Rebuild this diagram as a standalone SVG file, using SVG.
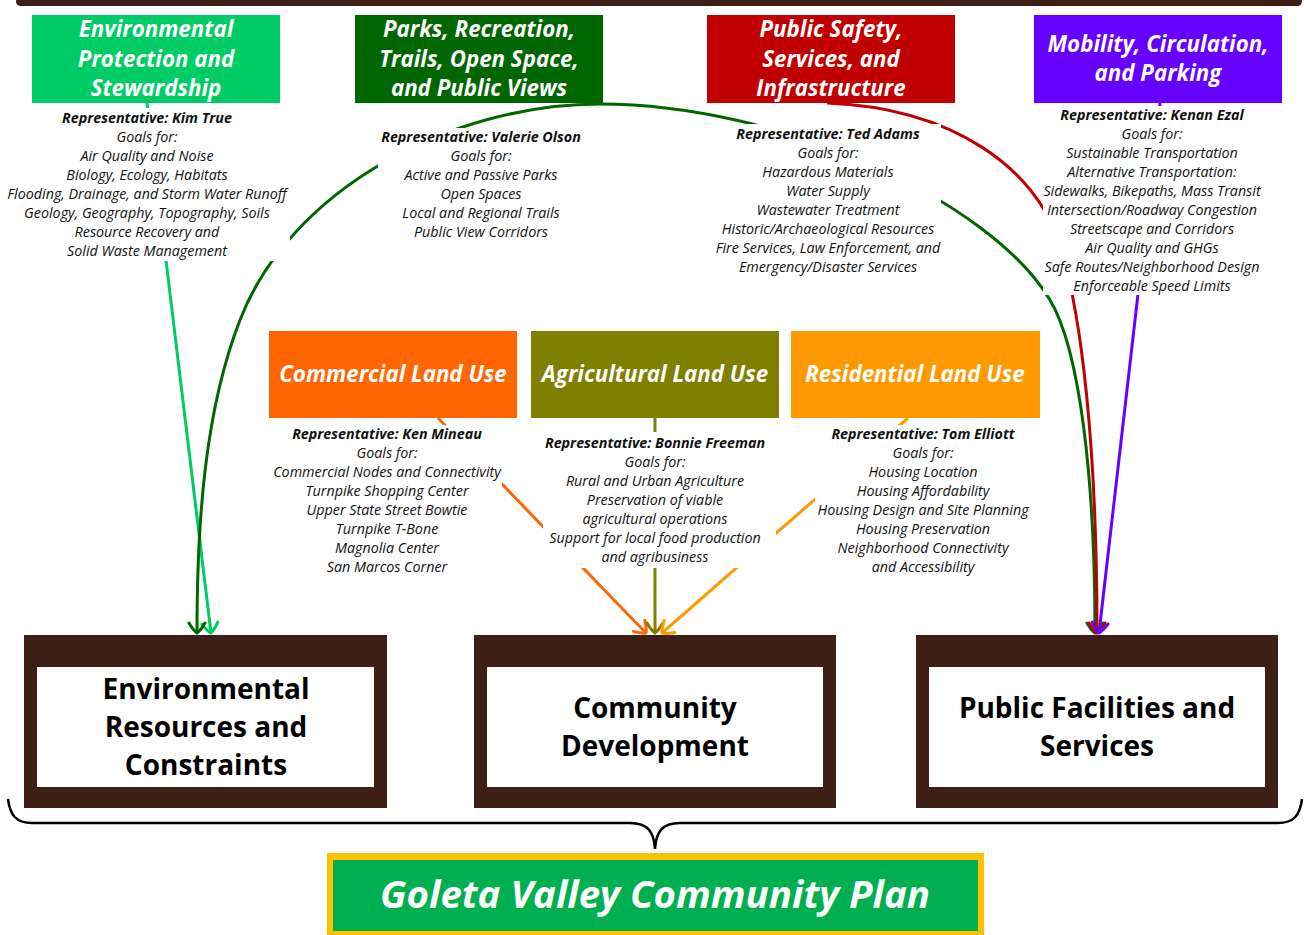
<svg xmlns="http://www.w3.org/2000/svg" width="1304" height="935" viewBox="0 0 1304 935">
<style>
.hd{font-family:"Open Sans","Noto Sans",sans-serif;font-weight:700;font-style:italic;fill:#fff;font-size:22.3px;text-anchor:middle}
.lu{font-family:"Open Sans","Noto Sans",sans-serif;font-weight:700;font-style:italic;fill:#fff;font-size:22.3px;text-anchor:middle}
.gl{font-family:"Open Sans","Noto Sans",sans-serif;font-style:italic;fill:#111;font-size:14.3px;text-anchor:middle}
.rp{font-weight:700}
.bx{font-family:"Open Sans","Noto Sans",sans-serif;font-weight:700;fill:#000;font-size:28px;text-anchor:middle}
.mask{fill:#fff}
.brown{fill:#3d1f16}
.ln{fill:none;stroke-width:3}
</style>
<defs>
<marker id="aLG" viewBox="-12 -12 14 24" markerWidth="14" markerHeight="24" refX="0" refY="0" orient="auto" markerUnits="userSpaceOnUse"><path d="M-10,-8 Q-3,-4 0,0 M-10,8 Q-3,4 0,0" fill="none" stroke="#00cc66" stroke-width="3" stroke-linecap="round"/></marker>
<marker id="aDG" viewBox="-12 -12 14 24" markerWidth="14" markerHeight="24" refX="0" refY="0" orient="auto" markerUnits="userSpaceOnUse"><path d="M-10,-8 Q-3,-4 0,0 M-10,8 Q-3,4 0,0" fill="none" stroke="#006600" stroke-width="3" stroke-linecap="round"/></marker>
<marker id="aRD" viewBox="-12 -12 14 24" markerWidth="14" markerHeight="24" refX="0" refY="0" orient="auto" markerUnits="userSpaceOnUse"><path d="M-10,-8 Q-3,-4 0,0 M-10,8 Q-3,4 0,0" fill="none" stroke="#c00000" stroke-width="3" stroke-linecap="round"/></marker>
<marker id="aPU" viewBox="-12 -12 14 24" markerWidth="14" markerHeight="24" refX="0" refY="0" orient="auto" markerUnits="userSpaceOnUse"><path d="M-10,-8 Q-3,-4 0,0 M-10,8 Q-3,4 0,0" fill="none" stroke="#6600ff" stroke-width="3" stroke-linecap="round"/></marker>
<marker id="aOR" viewBox="-12 -12 14 24" markerWidth="14" markerHeight="24" refX="0" refY="0" orient="auto" markerUnits="userSpaceOnUse"><path d="M-10,-8 Q-3,-4 0,0 M-10,8 Q-3,4 0,0" fill="none" stroke="#ff6600" stroke-width="3" stroke-linecap="round"/></marker>
<marker id="aOL" viewBox="-12 -12 14 24" markerWidth="14" markerHeight="24" refX="0" refY="0" orient="auto" markerUnits="userSpaceOnUse"><path d="M-10,-8 Q-3,-4 0,0 M-10,8 Q-3,4 0,0" fill="none" stroke="#808000" stroke-width="3" stroke-linecap="round"/></marker>
<marker id="aAM" viewBox="-12 -12 14 24" markerWidth="14" markerHeight="24" refX="0" refY="0" orient="auto" markerUnits="userSpaceOnUse"><path d="M-10,-8 Q-3,-4 0,0 M-10,8 Q-3,4 0,0" fill="none" stroke="#ff9900" stroke-width="3" stroke-linecap="round"/></marker>
</defs>
<rect width="1304" height="935" fill="#fff"/>
<rect x="16" y="-3" width="1286" height="9" rx="4.5" class="brown"/>

<g id="connectors">
<path class="ln" stroke="#00cc66" d="M147,103 L211,633" marker-end="url(#aLG)"/>
<path class="ln" stroke="#006600" d="M600,104 C450,104 290,190 240,320 C205,410 197,520 197,633" marker-end="url(#aDG)"/>
<path class="ln" stroke="#006600" d="M600,104 C780,104 990,200 1050,300 C1080,350 1095,480 1095,633" marker-end="url(#aDG)"/>
<path class="ln" stroke="#c00000" d="M827,103 C955,108 1035,170 1058,240 C1082,310 1097,450 1097,633" marker-end="url(#aRD)"/>
<path class="ln" stroke="#6600ff" d="M1160,103 L1099,633" marker-end="url(#aPU)"/>
<path class="ln" stroke="#ff6600" d="M438,418 L646,633" marker-end="url(#aOR)"/>
<path class="ln" stroke="#808000" d="M655,418 L655,633" marker-end="url(#aOL)"/>
<path class="ln" stroke="#ff9900" d="M908,418 L662,633" marker-end="url(#aAM)"/>
</g>

<g id="env-protection">
<rect x="32" y="15" width="248" height="88" fill="#00cc66"/>
<text class="hd"><tspan x="156" y="37">Environmental</tspan><tspan x="156" y="67">Protection and</tspan><tspan x="156" y="96">Stewardship</tspan></text>
<rect class="mask" x="2" y="108" width="288" height="153"/>
<text class="gl"><tspan x="147" y="123" class="rp">Representative: Kim True</tspan><tspan x="147" dy="19">Goals for:</tspan><tspan x="147" dy="19">Air Quality and Noise</tspan><tspan x="147" dy="19">Biology, Ecology, Habitats</tspan><tspan x="147" dy="19">Flooding, Drainage, and Storm Water Runoff</tspan><tspan x="147" dy="19">Geology, Geography, Topography, Soils</tspan><tspan x="147" dy="19">Resource Recovery and</tspan><tspan x="147" dy="19">Solid Waste Management</tspan></text>
</g>

<g id="parks">
<rect x="355" y="15" width="248" height="88" fill="#006600"/>
<text class="hd"><tspan x="479" y="37">Parks, Recreation,</tspan><tspan x="479" y="67">Trails, Open Space,</tspan><tspan x="479" y="96">and Public Views</tspan></text>
<rect class="mask" x="378" y="128" width="207" height="114"/>
<text class="gl"><tspan x="481" y="142" class="rp">Representative: Valerie Olson</tspan><tspan x="481" dy="19">Goals for:</tspan><tspan x="481" dy="19">Active and Passive Parks</tspan><tspan x="481" dy="19">Open Spaces</tspan><tspan x="481" dy="19">Local and Regional Trails</tspan><tspan x="481" dy="19">Public View Corridors</tspan></text>
</g>

<g id="public-safety">
<rect x="707" y="15" width="248" height="88" fill="#c00000"/>
<text class="hd"><tspan x="831" y="37">Public Safety,</tspan><tspan x="831" y="67">Services, and</tspan><tspan x="831" y="96">Infrastructure</tspan></text>
<rect class="mask" x="714" y="124" width="227" height="152"/>
<text class="gl"><tspan x="828" y="139" class="rp">Representative: Ted Adams</tspan><tspan x="828" dy="19">Goals for:</tspan><tspan x="828" dy="19">Hazardous Materials</tspan><tspan x="828" dy="19">Water Supply</tspan><tspan x="828" dy="19">Wastewater Treatment</tspan><tspan x="828" dy="19">Historic/Archaeological Resources</tspan><tspan x="828" dy="19">Fire Services, Law Enforcement, and</tspan><tspan x="828" dy="19">Emergency/Disaster Services</tspan></text>
</g>

<g id="mobility">
<rect x="1034" y="15" width="248" height="88" fill="#6600ff"/>
<text class="hd"><tspan x="1158" y="52">Mobility, Circulation,</tspan><tspan x="1158" y="81">and Parking</tspan></text>
<rect class="mask" x="1043" y="106" width="220" height="189"/>
<text class="gl"><tspan x="1152" y="120" class="rp">Representative: Kenan Ezal</tspan><tspan x="1152" dy="19">Goals for:</tspan><tspan x="1152" dy="19">Sustainable Transportation</tspan><tspan x="1152" dy="19">Alternative Transportation:</tspan><tspan x="1152" dy="19">Sidewalks, Bikepaths, Mass Transit</tspan><tspan x="1152" dy="19">Intersection/Roadway Congestion</tspan><tspan x="1152" dy="19">Streetscape and Corridors</tspan><tspan x="1152" dy="19">Air Quality and GHGs</tspan><tspan x="1152" dy="19">Safe Routes/Neighborhood Design</tspan><tspan x="1152" dy="19">Enforceable Speed Limits</tspan></text>
</g>

<g id="commercial">
<rect x="269" y="331" width="248" height="87" fill="#ff6600"/>
<text class="lu" x="393" y="382">Commercial Land Use</text>
<rect class="mask" x="271" y="425" width="231" height="151"/>
<text class="gl"><tspan x="387" y="439" class="rp">Representative: Ken Mineau</tspan><tspan x="387" dy="19">Goals for:</tspan><tspan x="387" dy="19">Commercial Nodes and Connectivity</tspan><tspan x="387" dy="19">Turnpike Shopping Center</tspan><tspan x="387" dy="19">Upper State Street Bowtie</tspan><tspan x="387" dy="19">Turnpike T-Bone</tspan><tspan x="387" dy="19">Magnolia Center</tspan><tspan x="387" dy="19">San Marcos Corner</tspan></text>
</g>

<g id="agricultural">
<rect x="531" y="331" width="248" height="87" fill="#808000"/>
<text class="lu" x="655" y="382">Agricultural Land Use</text>
<rect class="mask" x="543" y="432" width="233" height="136"/>
<text class="gl"><tspan x="655" y="448" class="rp">Representative: Bonnie Freeman</tspan><tspan x="655" dy="19">Goals for:</tspan><tspan x="655" dy="19">Rural and Urban Agriculture</tspan><tspan x="655" dy="19">Preservation of viable</tspan><tspan x="655" dy="19">agricultural operations</tspan><tspan x="655" dy="19">Support for local food production</tspan><tspan x="655" dy="19">and agribusiness</tspan></text>
</g>

<g id="residential">
<rect x="791" y="331" width="249" height="87" fill="#ff9900"/>
<text class="lu" x="915" y="382">Residential Land Use</text>
<rect class="mask" x="815" y="425" width="218" height="152"/>
<text class="gl"><tspan x="923" y="439" class="rp">Representative: Tom Elliott</tspan><tspan x="923" dy="19">Goals for:</tspan><tspan x="923" dy="19">Housing Location</tspan><tspan x="923" dy="19">Housing Affordability</tspan><tspan x="923" dy="19">Housing Design and Site Planning</tspan><tspan x="923" dy="19">Housing Preservation</tspan><tspan x="923" dy="19">Neighborhood Connectivity</tspan><tspan x="923" dy="19">and Accessibility</tspan></text>
</g>

<g id="env-resources">
<rect x="24" y="635" width="363" height="173" class="brown"/>
<rect x="37" y="667" width="337" height="120" fill="#fff"/>
<text class="bx"><tspan x="206" y="699">Environmental</tspan><tspan x="206" y="737">Resources and</tspan><tspan x="206" y="775">Constraints</tspan></text>
</g>

<g id="community-dev">
<rect x="474" y="635" width="362" height="173" class="brown"/>
<rect x="487" y="667" width="336" height="120" fill="#fff"/>
<text class="bx"><tspan x="655" y="718">Community</tspan><tspan x="655" y="756">Development</tspan></text>
</g>

<g id="public-facilities">
<rect x="916" y="635" width="362" height="173" class="brown"/>
<rect x="929" y="667" width="336" height="120" fill="#fff"/>
<text class="bx"><tspan x="1097" y="718">Public Facilities and</tspan><tspan x="1097" y="756">Services</tspan></text>
</g>

<g id="brace">
<path d="M8,799 C10,815 16,823 32,823 L630,823 C648,823 654,832 655,849 C656,832 662,823 680,823 L1278,823 C1294,823 1300,815 1302,799" fill="none" stroke="#000" stroke-width="2.5"/>
</g>

<g id="plan">
<rect x="327" y="853" width="657" height="85" fill="#ffc000"/>
<rect x="333" y="860" width="645" height="71" fill="#00b050"/>
<text x="655" y="908" font-family="Open Sans, Noto Sans, sans-serif" font-weight="700" font-style="italic" font-size="38" fill="#fff" text-anchor="middle" textLength="550" lengthAdjust="spacingAndGlyphs">Goleta Valley Community Plan</text>
</g>
</svg>
